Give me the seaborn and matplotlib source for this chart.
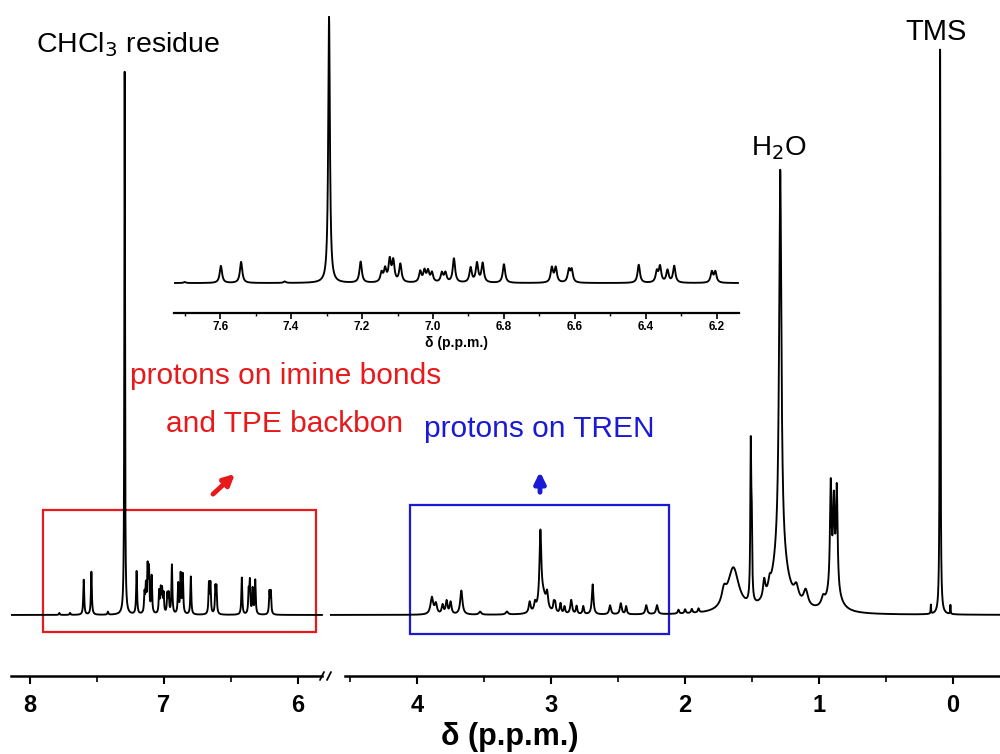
import numpy as np
import pandas as pd
import matplotlib
matplotlib.use("Agg")
import matplotlib.pyplot as plt
import seaborn as sns
from matplotlib.patches import Rectangle, FancyArrowPatch

# ---------------- data ----------------
# peak positions (ppm), heights (px above baseline, main view), half widths (ppm)
arom_ppm = [7.780, 7.700, 7.598, 7.541, 7.418, 7.293, 7.204, 7.145, 7.135, 7.122, 7.112, 7.092,
            7.036, 7.024, 7.014, 7.003, 6.975, 6.965, 6.941, 6.894, 6.876, 6.860, 6.800,
            6.665, 6.654, 6.617, 6.609, 6.420, 6.369, 6.360, 6.339, 6.320, 6.214, 6.204]
arom_height = [2, 2, 35, 43, 3, 543, 43, 19, 26, 44, 42, 37,
               22, 23, 22, 19, 19, 19, 49, 30, 39, 39, 38,
               30, 30, 25, 25, 37, 22, 32, 25, 34, 22, 22]
arom_hwhm = [0.004, 0.004, 0.004, 0.004, 0.004, 0.0028, 0.004, 0.004, 0.004, 0.004, 0.004, 0.004,
             0.004, 0.004, 0.004, 0.004, 0.004, 0.004, 0.004, 0.004, 0.004, 0.004, 0.004,
             0.004, 0.004, 0.004, 0.004, 0.004, 0.004, 0.004, 0.004, 0.004, 0.004, 0.004]

aliph_ppm = [3.890, 3.860, 3.810, 3.780, 3.750, 3.670, 3.530, 3.330, 3.160, 3.120, 3.080, 3.060,
             3.030, 2.980, 2.970, 2.930, 2.900, 2.850, 2.810, 2.760, 2.690, 2.560, 2.480, 2.440,
             2.290, 2.210, 2.050, 2.000, 1.950, 1.900,
             1.710, 1.640, 1.510, 1.503, 1.410, 1.370, 1.290, 1.290, 1.170, 1.100, 0.970,
             0.913, 0.890, 0.868, 0.890, 0.166, 0.097, 0.020]
aliph_height = [17, 10, 9, 13, 12, 24, 3, 3, 11, 8, 72, 18,
                14, 9, 9, 10, 7, 14, 8, 8, 30, 9, 11, 8,
                9, 9, 4, 4, 4, 4,
                14, 44, 150, 70, 18, 9, 385, 58, 14, 16, 8,
                105, 80, 100, 24, 9, 565, 9]
aliph_hwhm = [0.012, 0.010, 0.008, 0.008, 0.008, 0.010, 0.010, 0.010, 0.008, 0.008, 0.008, 0.030,
              0.008, 0.006, 0.006, 0.006, 0.006, 0.008, 0.006, 0.006, 0.007, 0.008, 0.008, 0.006,
              0.008, 0.008, 0.006, 0.006, 0.006, 0.006,
              0.020, 0.050, 0.004, 0.004, 0.010, 0.010, 0.010, 0.065, 0.020, 0.020, 0.015,
              0.007, 0.007, 0.007, 0.050, 0.002, 0.003, 0.002]

main_ticks_left = [8, 7, 6]
main_ticks_right = [4, 3, 2, 1, 0]
inset_ticks = [7.6, 7.4, 7.2, 7.0, 6.8, 6.6, 6.4, 6.2]
inset_minor = [7.7, 7.5, 7.3, 7.1, 6.9, 6.7, 6.5, 6.3]

# ---------------- build spectrum ----------------
ppm_all = np.array(arom_ppm + aliph_ppm)
h_all = np.array(arom_height + aliph_height, dtype=float)
w_all = np.array(arom_hwhm + aliph_hwhm)
grid = np.arange(8.20, -0.40, -0.0005)
intensity = np.zeros_like(grid)
for p, h, w in zip(ppm_all, h_all, w_all):
    intensity += h / (1.0 + ((grid - p) / w) ** 2)
spec = pd.DataFrame({"ppm": grid, "I": intensity})

# ---------------- style ----------------
sns.set_theme(style="white")
plt.rcParams["font.family"] = ["Liberation Sans", "DejaVu Sans"]
plt.rcParams["text.color"] = "black"
plt.rcParams["axes.labelcolor"] = "black"
plt.rcParams["xtick.color"] = "black"
plt.rcParams["xtick.labelcolor"] = "black"

fig = plt.figure(figsize=(10, 7.54), dpi=100)
W, H = 1000.0, 754.0

def fx(x):
    return x / W

def fy(y):
    return 1 - y / H

LW = 1.35
axL = fig.add_axes([fx(11), fy(676), 314 / W, 656 / H])
axR = fig.add_axes([fx(330), fy(676), 670 / W, 656 / H])

left = spec[(spec.ppm <= 8.14) & (spec.ppm >= 5.82)]
right = spec[(spec.ppm <= 4.65) & (spec.ppm >= -0.35)]
sns.lineplot(data=left, x="ppm", y="I", ax=axL, color="black", lw=LW, estimator=None, sort=False)
sns.lineplot(data=right, x="ppm", y="I", ax=axR, color="black", lw=LW, estimator=None, sort=False)

axL.set_xticks(main_ticks_left)
axL.set_xticks([7.5, 6.5], minor=True)
axR.set_xticks(main_ticks_right)
axR.set_xticks([4.5, 3.5, 2.5, 1.5, 0.5], minor=True)
for ax, t in ((axL, main_ticks_left), (axR, main_ticks_right)):
    ax.set_xticklabels([str(v) for v in t], fontsize=17, fontweight="bold", color="black")

axL.set_xlim(8.14, 5.80)
axR.set_xlim(4.65, -0.35)
for ax in (axL, axR):
    ax.set_ylim(-61, 595)
    ax.set_facecolor("none")
    for s in ("top", "left", "right"):
        ax.spines[s].set_visible(False)
    ax.spines["bottom"].set_linewidth(1.8)
    ax.spines["bottom"].set_color("black")
    ax.set_yticks([])
    ax.set_xlabel("")
    ax.set_ylabel("")
    ax.tick_params(axis="x", which="major", direction="out", length=6, width=1.5,
                   colors="black", pad=7, bottom=True)
    ax.tick_params(axis="x", which="minor", direction="out", length=4, width=1.2,
                   colors="black", bottom=True)
axR.spines["bottom"].set_bounds(-0.35, 4.54)
axL.spines["bottom"].set_bounds(5.82, 8.14)

# break marks
for xb in (322, 329):
    fig.add_artist(plt.Line2D([fx(xb - 2), fx(xb + 2)], [fy(680), fy(672)], color="black", lw=1.3))

fig.text(0.51, fy(737), "δ (p.p.m.)", ha="center", va="center", fontsize=22,
         fontweight="bold", color="black")

# ---------------- inset ----------------
axI = fig.add_axes([fx(174.4), fy(313), 564.2 / W, 298 / H])
ins = spec[(spec.ppm <= 7.729) & (spec.ppm >= 6.139)]
sns.lineplot(data=ins, x="ppm", y="I", ax=axI, color="black", lw=1.35, estimator=None, sort=False)
axI.set_xticks(inset_ticks)
axI.set_xticks(inset_minor, minor=True)
axI.set_xticklabels([f"{v:.1f}" for v in inset_ticks], fontsize=8.5, fontweight="bold", color="black")
axI.set_xlim(7.729, 6.1385)
axI.set_ylim(-61, 547)
axI.set_facecolor("none")
for s in ("top", "left", "right"):
    axI.spines[s].set_visible(False)
axI.spines["bottom"].set_linewidth(1.6)
axI.spines["bottom"].set_color("black")
axI.set_yticks([])
axI.set_ylabel("")
axI.tick_params(axis="x", which="major", direction="out", length=4, width=1.2, pad=2,
                colors="black", bottom=True)
axI.tick_params(axis="x", which="minor", direction="out", length=2.5, width=1.0,
                colors="black", bottom=True)
axI.set_xlabel("δ (p.p.m.)", fontsize=10, fontweight="bold", labelpad=2, color="black")

# ---------------- annotations ----------------
fig.text(fx(128), fy(45), r"CHCl$_3$ residue", ha="center", va="center", fontsize=20.5, color="black")
fig.text(fx(936), fy(32), "TMS", ha="center", va="center", fontsize=21, color="black")
fig.text(fx(779), fy(148), r"H$_2$O", ha="center", va="center", fontsize=20, color="black")

red = "#e8191b"
blue = "#1a1ad6"
fig.text(fx(130), fy(376), "protons on imine bonds", ha="left", va="center", fontsize=21.5, color=red)
fig.text(fx(166), fy(424), "and TPE backbon", ha="left", va="center", fontsize=21.5, color=red)
fig.text(fx(424), fy(429), "protons on TREN", ha="left", va="center", fontsize=21.5, color=blue)

fig.add_artist(FancyArrowPatch((fx(211), fy(496)), (fx(237), fy(472)),
               transform=fig.transFigure, arrowstyle="-|>", mutation_scale=16, lw=3.5, color=red))
fig.add_artist(FancyArrowPatch((fx(540), fy(495)), (fx(540), fy(469)),
               transform=fig.transFigure, arrowstyle="-|>", mutation_scale=16, lw=3.5, color=blue))

# boxes (data coords of the spectrum panels)
axL.add_patch(Rectangle((7.90, -17), 5.87 - 7.90, 122, fill=False, ec=red, lw=1.6, clip_on=False))
axR.add_patch(Rectangle((4.05, -19), 2.12 - 4.05, 129, fill=False, ec=blue, lw=1.6, clip_on=False))

fig.savefig("out.png", dpi=100)
